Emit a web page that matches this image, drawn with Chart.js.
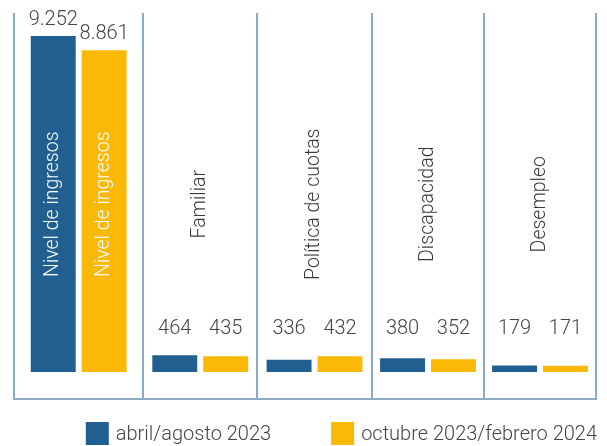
<!DOCTYPE html>
<html>
<head>
<meta charset="utf-8">
<script src="https://cdn.jsdelivr.net/npm/chart.js@4.4.1/dist/chart.umd.min.js"></script>
<style>
  html, body { margin: 0; padding: 0; background: #ffffff; }
  #wrap { width: 607px; height: 446px; }
</style>
</head>
<body>
<div id="wrap"><canvas id="c" width="607" height="446"></canvas></div>
<script>
// Solicitudes por motivo, dos periodos
const categories = ['Nivel de ingresos', 'Familiar', 'Política de cuotas', 'Discapacidad', 'Desempleo'];
const seriesNames = ['abril/agosto 2023', 'octubre 2023/febrero 2024'];
const abrilAgosto2023 = [9252, 464, 336, 380, 179];
const octubre2023Febrero2024 = [8861, 435, 432, 352, 171];

// Panel edges along the x axis (the first panel is a little wider)
const panelEdges = [0, 1.112, 2.088, 3.076, 4.038, 5];
const panelCenter = i => (panelEdges[i] + panelEdges[i + 1]) / 2;

const BLUE = '#215f90';
const YELLOW = '#fbb907';
const LINE = '#8eaac6';
const TEXT = '#454545';
const LIGHT_FONT = '"Roboto", "Lato", "Liberation Sans", sans-serif';

// Thousands separator in Spanish style: 9252 -> 9.252
function fmt(v) {
  return String(v).replace(/\B(?=(\d{3})+(?!\d))/g, '.');
}

const toPoints = values => values.map((v, i) => ({ x: panelCenter(i), y: v }));

// Value labels above the bars; small bars share one common baseline
const VALUE_LABEL_FLOOR = 1050;
// Vertical middle of the rotated category names, in value units
const CATEGORY_LABEL_MID = 4620;

const labelPlugin = {
  id: 'barLabels',
  afterDatasetsDraw(chart) {
    const ctx = chart.ctx;
    const yScale = chart.scales.y;
    const xScale = chart.scales.x;
    const floorPx = yScale.getPixelForValue(VALUE_LABEL_FLOOR);
    const midPx = yScale.getPixelForValue(CATEGORY_LABEL_MID);
    const zeroPx = yScale.getPixelForValue(0);

    ctx.save();
    ctx.font = '300 20px ' + LIGHT_FONT;
    ctx.fillStyle = TEXT;
    ctx.textAlign = 'center';
    ctx.textBaseline = 'alphabetic';
    chart.data.datasets.forEach((ds, di) => {
      chart.getDatasetMeta(di).data.forEach((bar, i) => {
        const y = Math.min(bar.y - 11, floorPx);
        ctx.fillText(fmt(ds.data[i].y), bar.x, y);
      });
    });

    // Category names, rotated; written inside the bars when they are tall enough
    ctx.font = '300 19.5px ' + LIGHT_FONT;
    ctx.textAlign = 'center';
    ctx.textBaseline = 'middle';
    const metas = chart.data.datasets.map((_, di) => chart.getDatasetMeta(di).data);
    categories.forEach((name, i) => {
      const w = ctx.measureText(name).width;
      const bars = metas.map(m => m[i]);
      const fitsInside = bars.every(b => (zeroPx - b.y) > w + 40);
      const draw = (x, color) => {
        ctx.save();
        ctx.fillStyle = color;
        ctx.translate(x, midPx);
        ctx.rotate(-Math.PI / 2);
        ctx.fillText(name, 0, 0);
        ctx.restore();
      };
      if (fitsInside) {
        bars.forEach(b => draw(b.x, '#ffffff'));
      } else {
        draw(xScale.getPixelForValue(panelCenter(i)), '#3a3a3a');
      }
    });
    ctx.restore();
  }
};

// Legend row at the bottom, right-aligned
const legendPlugin = {
  id: 'bottomLegend',
  afterDraw(chart) {
    const ctx = chart.ctx;
    const box = 23, gapText = 7, gapItems = 60;
    const top = chart.height - box - 1;
    ctx.save();
    ctx.font = '300 20px ' + LIGHT_FONT;
    ctx.textBaseline = 'middle';
    ctx.textAlign = 'left';
    const items = chart.data.datasets.map(ds => ({ text: ds.label, color: ds.backgroundColor }));
    const widths = items.map(it => box + gapText + ctx.measureText(it.text).width);
    const total = widths.reduce((a, b) => a + b, 0) + gapItems * (items.length - 1);
    let x = chart.width - 10 - total;
    items.forEach((it, k) => {
      ctx.fillStyle = it.color;
      ctx.fillRect(x, top, box, box);
      ctx.fillStyle = TEXT;
      ctx.fillText(it.text, x + box + gapText, top + box / 2 + 1);
      x += widths[k] + gapItems;
    });
    ctx.restore();
  }
};

new Chart(document.getElementById('c'), {
  type: 'bar',
  data: {
    datasets: [
      { label: seriesNames[0], data: toPoints(abrilAgosto2023), backgroundColor: BLUE },
      { label: seriesNames[1], data: toPoints(octubre2023Febrero2024), backgroundColor: YELLOW }
    ]
  },
  options: {
    responsive: false,
    animation: false,
    devicePixelRatio: 1,
    layout: { padding: { left: 14, right: 11, top: 13, bottom: 47 } },
    // bar slots are measured against the closest spacing between panel centres
    categoryPercentage: 0.91,
    barPercentage: 0.882,
    plugins: {
      legend: { display: false },
      tooltip: { enabled: false }
    },
    scales: {
      x: {
        type: 'linear',
        min: panelEdges[0],
        max: panelEdges[panelEdges.length - 1],
        offset: false,
        afterBuildTicks: scale => {
          scale.ticks = panelEdges.map(v => ({ value: v }));
        },
        ticks: { display: false },
        grid: { offset: false, color: LINE, lineWidth: 2, drawTicks: false },
        border: { display: true, color: LINE, width: 2 }
      },
      y: {
        display: false,
        min: -743,
        max: 9885
      }
    }
  },
  plugins: [labelPlugin, legendPlugin]
});
</script>
</body>
</html>
